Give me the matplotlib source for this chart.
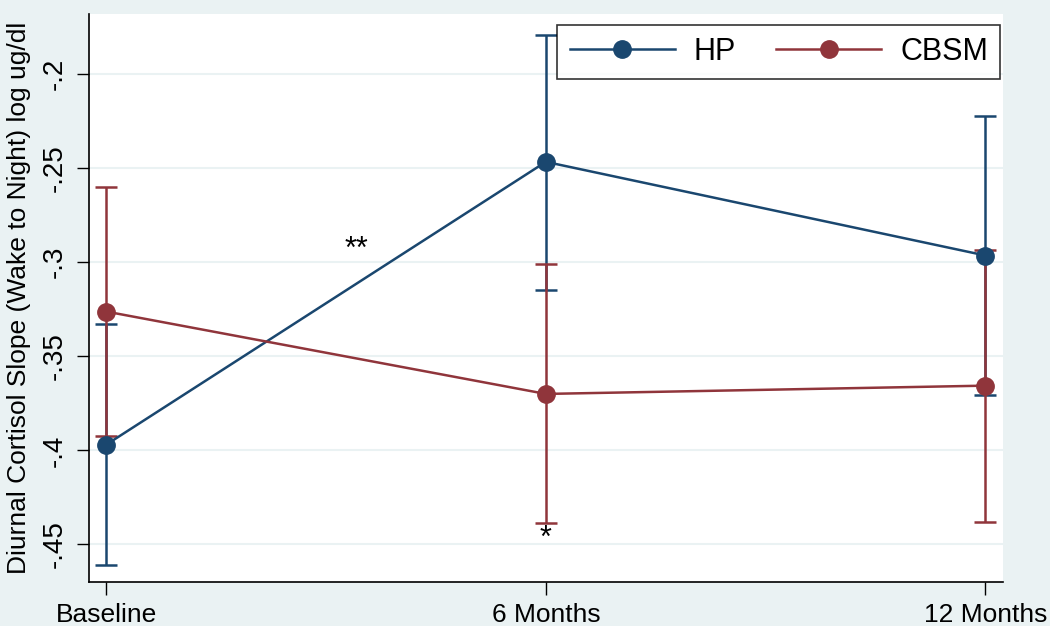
import numpy as np
import matplotlib.pyplot as plt

plt.rcParams['font.family'] = ['Liberation Sans Narrow', 'Liberation Sans', 'DejaVu Sans']

# data
timepoints = ["Baseline", "6 Months", "12 Months"]
hp_mean = [-0.397, -0.2466, -0.2964]
hp_lo = [-0.461, -0.3145, -0.3705]
hp_hi = [-0.3328, -0.1789, -0.2221]
cbsm_mean = [-0.3262, -0.370, -0.3656]
cbsm_lo = [-0.3926, -0.4388, -0.4383]
cbsm_hi = [-0.260, -0.3009, -0.2934]
yticks = [-0.2, -0.25, -0.3, -0.35, -0.4, -0.45]
ytick_labels = ["-.2", "-.25", "-.3", "-.35", "-.4", "-.45"]

bg = "#EAF2F3"
hp_col = "#1A476F"
cbsm_col = "#90353B"

fig = plt.figure(figsize=(10.5, 6.26), dpi=100, facecolor=bg)
ax = fig.add_axes([0.0848, 0.0703, 0.8705, 0.9073])
ax.set_facecolor("white")

x = np.arange(len(timepoints))

def draw(means, lo, hi, col, name):
    means = np.array(means)
    err = [means - np.array(lo), np.array(hi) - means]
    ax.errorbar(x, means, yerr=err, fmt="none", ecolor=col, elinewidth=1.8,
                capsize=8, capthick=1.8, zorder=2)
    ax.plot(x, means, color=col, linewidth=1.8, marker="o", markersize=12.5,
            label=name, zorder=3)

draw(hp_mean, hp_lo, hp_hi, hp_col, "HP")
draw(cbsm_mean, cbsm_lo, cbsm_hi, cbsm_col, "CBSM")

ax.text(0.569, -0.2935, "**", ha="center", va="center", fontsize=22, color="black")
ax.text(1.0, -0.447, "*", ha="center", va="center", fontsize=22, color="black")

ax.set_xlim(-0.039, 2.04)
ax.set_ylim(-0.470, -0.168)
ax.set_xticks(x)
ax.set_xticklabels(timepoints, fontsize=19)
ax.set_yticks(yticks)
ax.set_yticklabels(ytick_labels, fontsize=20, rotation=90, va="center")
ax.tick_params(axis="both", length=9, width=1, color="black", pad=6)
ax.grid(axis="y", color=bg, linewidth=1.5)
ax.set_axisbelow(True)

for s in ["top", "right"]:
    ax.spines[s].set_visible(False)
for s in ["left", "bottom"]:
    ax.spines[s].set_linewidth(1.2)

ax.set_ylabel("Diurnal Cortisol Slope (Wake to Night) log ug/dl", fontsize=19)
ax.yaxis.set_label_coords(-0.064, 0.50)

leg = ax.legend(loc="upper right", bbox_to_anchor=(0.997, 0.981), ncol=2,
                fontsize=22, handlelength=3.45, columnspacing=1.3,
                handletextpad=0.62, frameon=True, fancybox=False,
                borderpad=0.4, borderaxespad=0)
leg.get_frame().set_edgecolor("black")
leg.get_frame().set_linewidth(1.2)

fig.savefig("out.png", dpi=100, facecolor=bg)
